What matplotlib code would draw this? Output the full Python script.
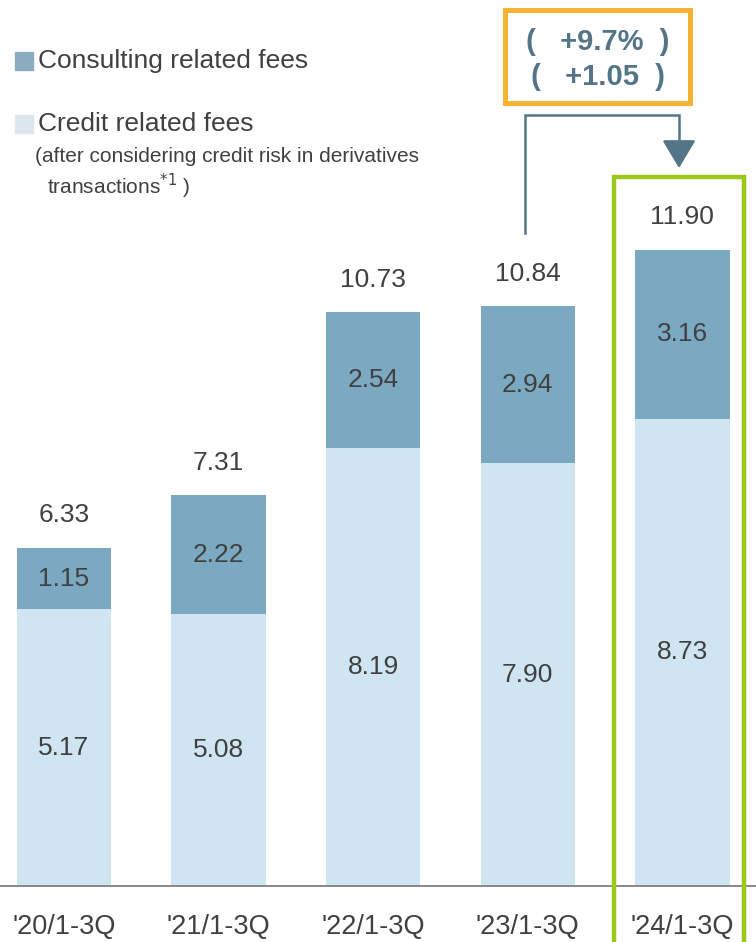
import numpy as np
import matplotlib
matplotlib.use('Agg')
import matplotlib.pyplot as plt
from matplotlib.patches import Rectangle

plt.rcParams['font.family'] = ['Liberation Sans', 'DejaVu Sans']

# data
periods = ["'20/1-3Q", "'21/1-3Q", "'22/1-3Q", "'23/1-3Q", "'24/1-3Q"]
credit = [5.17, 5.08, 8.19, 7.90, 8.73]
consulting = [1.15, 2.22, 2.54, 2.94, 3.16]
totals = [6.33, 7.31, 10.73, 10.84, 11.90]
change_pct = '(   +9.7%  )'
change_abs = '(   +1.05  )'

c_consult = '#7aa9c1'
c_credit = '#d0e5f2'
txt = '#404040'
slate = '#537587'

W, H = 756, 942
fig = plt.figure(figsize=(W / 100, H / 100), dpi=100)
ax = fig.add_axes([0, 56 / H, 1, 886 / H])

x = np.arange(len(periods))
ax.bar(x, credit, width=0.61, color=c_credit)
ax.bar(x, consulting, width=0.61, bottom=credit, color=c_consult)

for i in range(len(x)):
    ax.text(x[i], credit[i] / 2, f'{credit[i]:.2f}', ha='center', va='center',
            fontsize=19, color=txt)
    ax.text(x[i], credit[i] + consulting[i] / 2, f'{consulting[i]:.2f}',
            ha='center', va='center', fontsize=19, color=txt)
    ax.text(x[i], totals[i] + 0.6, f'{totals[i]:.2f}', ha='center', va='center',
            fontsize=19, color=txt)

ax.set_xlim(-0.414, 4.476)
ax.set_ylim(0, 16.56)
ax.set_xticks(x)
ax.set_xticklabels(periods, fontsize=19.5, color=txt)
ax.tick_params(axis='x', length=0, pad=20)
ax.set_yticks([])
for s in ['top', 'left', 'right']:
    ax.spines[s].set_visible(False)
ax.spines['bottom'].set_color('#808080')
ax.spines['bottom'].set_linewidth(1.3)

# highlight box around latest period
ax.add_patch(Rectangle((4 - 0.443, -3), 0.841, 13.25 + 3, fill=False,
                       edgecolor='#9cc81b', linewidth=3.2, clip_on=False, zorder=5))

# change annotation box
ax.add_patch(Rectangle((2.853, 14.64), 1.196, 1.73, fill=False,
                       edgecolor='#f6b233', linewidth=3.6, clip_on=False, zorder=5))
ax.text(3.454, 15.78, change_pct, ha='center', va='center', fontsize=21,
        fontweight='bold', color=slate, clip_on=False)
ax.text(3.454, 15.12, change_abs, ha='center', va='center', fontsize=21,
        fontweight='bold', color=slate, clip_on=False)

# elbow arrow from '23 to '24
ax.plot([2.982, 2.982, 3.978, 3.978], [12.2, 14.41, 14.41, 13.85],
        color=slate, linewidth=1.8, solid_joinstyle='miter', clip_on=False)
ax.annotate('', xy=(3.978, 13.42), xytext=(3.978, 13.9),
            arrowprops=dict(arrowstyle='-|>,head_length=0.6,head_width=0.36',
                            mutation_scale=29, color=slate,
                            linewidth=1.8, shrinkA=0, shrinkB=0))

# legend
fig.patches.append(Rectangle((15 / W, 1 - 70 / H), 18 / W, 18 / H, color='#8aacbf',
                             transform=fig.transFigure))
fig.text(38 / W, 1 - 61 / H, 'Consulting related fees', fontsize=19, color=txt,
         va='center', ha='left')
fig.patches.append(Rectangle((15 / W, 1 - 133 / H), 18 / W, 18 / H, color='#dce7ee',
                             transform=fig.transFigure))
fig.text(38 / W, 1 - 124 / H, 'Credit related fees', fontsize=19, color=txt,
         va='center', ha='left')
fig.text(35 / W, 1 - 157 / H, '(after considering credit risk in derivatives',
         fontsize=15, color=txt, va='center', ha='left')
fig.text(47 / W, 1 - 186 / H, r'transactions$^{*1}$ )', fontsize=15, color=txt,
         va='center', ha='left')

fig.savefig('out.png', dpi=100)
